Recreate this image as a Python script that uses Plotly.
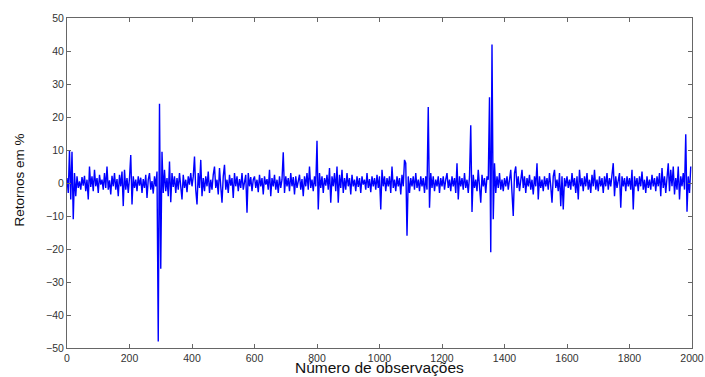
import plotly.graph_objects as go

# Hand-read returns (%), one sample every 4 observations, in 200-observation blocks
step = 4
seg0 = [1.5, -3, 10, -5, 9.5, -11, 3, -4, 2, -1.5, 0.5, -2, 1.8, -0.8, 2.2, -2.5, 1, -5, 5, -1.2,
        2, -2.5, 4, -1, 1.5, -3, 2.5, -0.5, 1, -2, 3, -1.5, 5, -2, 0.8, -3.5, 2.2, -1, 3, -2,
        1.2, -4, 2.5, -1, 3.5, -7, 4, -2, 1.5, -3]
seg1 = [1.5, 8.5, -6.5, 2, -1.5, 1, -2.5, 2, -0.8, 1.6, -3, 1.2, -1.5, 2.5, -4.5, 1, 3, -2, 0.6, -3.2,
        2, -1, 3.5, -48, 24, -26, 9.5, -3, 4, -2.5, 1.5, -4, 6.5, -5.8, 3, -1.2, 2, -3, 1.5, -2,
        3, -1, -5, 2.5, -1.5, 1, -2.8, 2, -0.5, 3]
seg2 = [-1, 2, 8, -2, -6.5, 3, -1.5, 7, -4, 1.5, -2.5, 2, -1, 3.5, -3, 1, -2, 2.5, 5, -1.5,
        1, -3.5, 4.5, -1, -6, 2, 5.5, -2, 1, -3, 2.5, -0.8, 1.5, -4.5, 3, -1, 2, -2.5, 1.2, -1.5,
        3, -2, 1, 2.5, -9, 3, -1, 1.8, -2.5, 1]
seg3 = [2, -1.5, 1, -2.8, 2.5, -1, 1.5, -3.5, 2, -0.5, 1.2, -2, 4, -4, 1.5, -1, 2.5, -2, 1, -3,
        2, -1.5, 1, 9.3, -3, 2, -1, 1.5, -2.5, 3, -1, 1.8, -3.5, 2, -1.5, 1, 2.5, -2, 1.2, -4,
        2, -1, 3, -2, 5, -1.5, 1, -2.5, 2, -1]
seg4 = [12.8, -8, 3, -1.5, 2, -3, 1.5, -0.8, 2.5, -2, 4.5, -6, 2, -1, 3, -2.5, 5, -6, 2.5, -1.5,
        4, -3, 1.5, -2, 3, -1, 1.5, -3.5, 2.5, -1, 1, -2.5, 2, -1.2, 1.5, -3, 2, -0.5, 1, -2,
        3, -1.5, 1.2, -2.8, 2, -1, 1.5, -2, 2.5, -1.5]
seg5 = [2, -8, 4, -1, 2, -2.5, 1.5, -1, 2, -3, 5, -1.5, 1, -2.5, 2, -1, 1.5, -3.5, 2.5, -1,
        7, 6, -16, 2, -3, 1.5, -1, 2, -2, 3, -1.5, 1, -2.5, 2, -1, 1.5, -3, 2, -2, 23,
        -7.5, 3, -1.5, 2, -2.5, 1, -1, 2, -3, 1.5]
seg6 = [-1, 2, -2, 1, 3, -1.5, 1, -2.5, 2, -1, 1.5, -3, 6, -5, 2, -1, 1.5, -2, 3, -1.5,
        1, -3, 2, 17.5, -8.8, 2.5, -1.5, 1, -2.5, 4, -1, -6, 2.5, -1, 1.5, -3, 2, 1, 26, -21,
        42, -11, 6, -3, 2, -1.5, 3, -2, 1, -2.5]
seg7 = [1.5, -1, 2, -2, 1, 4, -3, -10, 3, 5, -1.5, 2, -2.5, 1, 4, -1.5, 2, -3, 1.5, -1,
        2.5, -2, 1, -3.5, 2, -1, 6, -5, 2, -1.5, 1, -2.5, 2, -1, 1.5, -2, 3, -1, -6, 2,
        4, -1.5, 1, -2.5, 3, -7, 2, -8, 1.5, -1]
seg8 = [2, -1.5, 1, -2, 3, -1, 1.5, -3, 2, -5, 4, -1, 1.5, -2.5, 2, -1, 3, -2, 1, -3,
        2.5, -1, 4, -2, 1, -2.5, 2, -1, 1.5, -3, 2, -1, 3, -2, 1.5, -1, 2, 6, -4, 2,
        -1.5, 1, 3, -7.5, 2, -1, 1.5, -2.5, 2, -1]
seg9 = [1.5, -2, 4, -8, 2, -1, 1.5, -2.5, 2, -1, 3.5, -2, 1, -3, 2, -1.5, 1, -2, 2.5, -1,
        1.5, -2.5, 2, -1, 3, -4, 4.5, -1.5, 2, -3, 1, 6, -2.5, 4, -1, 5, -3.5, 1.5, -2, 5,
        -5, 2, -1, 3, -2, 14.8, -8.7, 2, -3, 5]

returns = seg0 + seg1 + seg2 + seg3 + seg4 + seg5 + seg6 + seg7 + seg8 + seg9
obs = [i * step for i in range(len(returns))]

x_ticks = [0, 200, 400, 600, 800, 1000, 1200, 1400, 1600, 1800, 2000]
y_ticks = [-50, -40, -30, -20, -10, 0, 10, 20, 30, 40, 50]

FONT = "Liberation Sans, Arial, sans-serif"

fig = go.Figure()
fig.add_trace(go.Scatter(x=obs, y=returns, mode="lines",
                         line=dict(color="#0000ff", width=1.4), showlegend=False))

axis_common = dict(showgrid=False, zeroline=False, showline=True, linecolor="#666666",
                   linewidth=1, mirror="ticks", ticks="inside", ticklen=4,
                   tickcolor="#666666", automargin=False,
                   tickfont=dict(family=FONT, size=10.5, color="#333333"))

fig.update_layout(
    width=705, height=377,
    margin=dict(l=67, r=13, t=18, b=29),
    paper_bgcolor="white", plot_bgcolor="white",
    xaxis=dict(range=[0, 2000], tickvals=x_ticks, **axis_common),
    yaxis=dict(range=[-50, 50], tickvals=y_ticks, **axis_common),
    annotations=[
        dict(text="Número de observações", xref="paper", yref="paper",
             x=0.5, y=-0.0595, xanchor="center", yanchor="middle", showarrow=False,
             borderpad=0, font=dict(family=FONT, size=15.5, color="#111111")),
        dict(text="Retornos em %", xref="paper", yref="paper",
             x=-0.076, y=0.509, xanchor="center", yanchor="middle", showarrow=False,
             borderpad=0, textangle=-90, font=dict(family=FONT, size=13.5, color="#111111")),
    ],
)

fig.write_html("out.html")
